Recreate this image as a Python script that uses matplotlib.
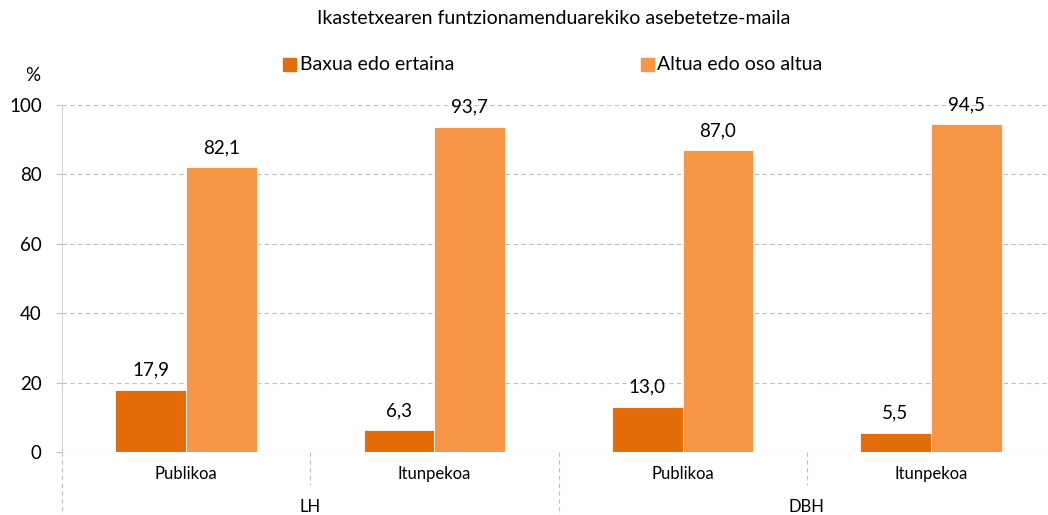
import numpy as np
import matplotlib.pyplot as plt
from matplotlib.patches import Rectangle

plt.rcParams['font.family'] = ['Lato', 'DejaVu Sans']

title = 'Ikastetxearen funtzionamenduarekiko asebetetze-maila'
series_names = ['Baxua edo ertaina', 'Altua edo oso altua']
colors = ['#E46C0A', '#F79646']
subcats = ['Publikoa', 'Itunpekoa', 'Publikoa', 'Itunpekoa']
groups = ['LH', 'DBH']
baxua = [17.9, 6.3, 13.0, 5.5]
altua = [82.1, 93.7, 87.0, 94.5]
yticks = [0, 20, 40, 60, 80, 100]


def fmt(v):
    return f'{v:.1f}'.replace('.', ',')


fig = plt.figure(figsize=(10.48, 5.15), dpi=100)
ax = fig.add_axes([62 / 1048, 63 / 515, 993 / 1048, 347 / 515])

x = np.arange(len(subcats))
w = 0.285
for vals, off, col in zip([baxua, altua], [-w / 2, w / 2], colors):
    bars = ax.bar(x + off, vals, width=w, color=col, edgecolor='white', linewidth=0.6, zorder=3)
    for b, v in zip(bars, vals):
        ax.text(b.get_x() + b.get_width() / 2, v + 3.2, fmt(v), ha='center', va='bottom',
                fontsize=13.5, color='#000000')

ax.set_xlim(-0.5, len(subcats) - 0.5)
ax.set_ylim(0, 100)
ax.set_yticks(yticks)
ax.set_yticklabels([str(t) for t in yticks], fontsize=13.5)
ax.tick_params(axis='y', length=4.5, color='#BFBFBF', pad=10)
ax.set_xticks([])
ax.grid(axis='y', color='#BFBFBF', linestyle=(0, (4, 3)), linewidth=0.8, zorder=0)
for s in ['top', 'right', 'bottom']:
    ax.spines[s].set_visible(False)
ax.spines['left'].set_color('#D0D0D0')
ax.axhline(0, color='#BFBFBF', linestyle=(0, (4, 3)), linewidth=0.8, zorder=1)

# category separators and labels below the axis
trans = ax.get_xaxis_transform()
for i in range(len(subcats) + 1):
    xs = i - 0.5
    bottom = -0.19 if i % 2 == 0 else -0.095
    ax.plot([xs, xs], [0, bottom], transform=trans, color='#BFBFBF',
            linestyle=(0, (4, 3)), linewidth=0.8, clip_on=False)
for i, name in enumerate(subcats):
    ax.text(i, -0.063, name, transform=trans, ha='center', va='center', fontsize=12)
for j, name in enumerate(groups):
    ax.text(2 * j + 0.5, -0.158, name, transform=trans, ha='center', va='center', fontsize=12)

ax.text(-0.030, 1.086, '%', transform=ax.transAxes, ha='center', va='center', fontsize=13.5)

fig.text(554 / 1048, 1 - 18 / 515, title, ha='center', va='center', fontsize=14)

# legend
for lx, tx, name, col in zip([283, 641], [300, 657], series_names, colors):
    fig.patches.append(Rectangle((lx / 1048, 1 - 71 / 515), 13 / 1048, 13 / 515,
                                 transform=fig.transFigure, color=col))
    fig.text(tx / 1048, 1 - 64 / 515, name, ha='left', va='center', fontsize=14)

fig.savefig('out.png', dpi=100)
